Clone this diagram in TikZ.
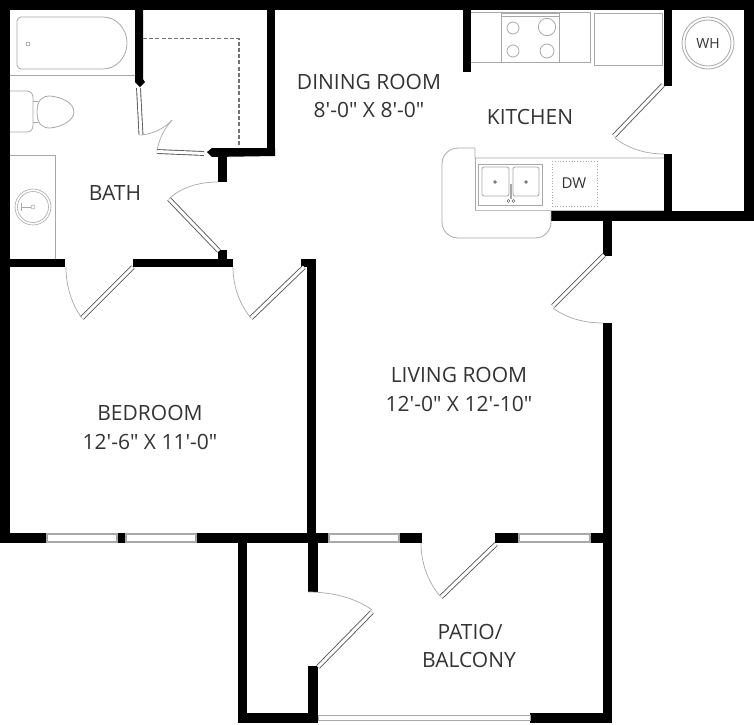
\documentclass[tikz,border=0pt]{standalone}
\usepackage{fontspec}
\setmainfont{Open Sans}
\definecolor{fixture}{gray}{0.66}
\definecolor{labelgray}{gray}{0.2}
\newcommand{\ft}{\textquotesingle}
\newcommand{\inch}{\textquotedbl}
\tikzset{
  wall/.style={fill=black,draw=none},
  fixture/.style={draw=fixture,line width=0.8pt},
  leaf/.style={draw=black!65,line width=0.9pt,double=white,double distance=3pt},
  swing/.style={draw=fixture,line width=0.7pt},
  pane/.style={draw=fixture,fill=white,line width=1.1pt},
  room/.style={text=labelgray,font=\fontsize{21}{25}\selectfont,align=center}
}
\begin{document}
\begin{tikzpicture}[x=1pt,y=-1pt]
  \useasboundingbox (0,0) rectangle (754,724);
  % Outer walls
  \fill[wall] (0,0) rectangle (754,10);
  \fill[wall] (0,0) rectangle (10,543);
  \fill[wall] (744,0) rectangle (754,221);
  \fill[wall] (551,211) rectangle (754,221);
  \fill[wall] (603,211) rectangle (612,256);
  \fill[wall] (603,323) rectangle (612,723);
  \fill[wall] (530,713) rectangle (612,723);
  \fill[wall] (238,533) rectangle (247,723);
  \fill[wall] (238,713) rectangle (318,723);
  % Walls along the bedroom and living room
  \fill[wall] (0,533) rectangle (47,543);
  \fill[wall] (117,533) rectangle (126,543);
  \fill[wall] (196,533) rectangle (329,543);
  \fill[wall] (399,533) rectangle (422,543);
  \fill[wall] (495,533) rectangle (519,543);
  \fill[wall] (590,533) rectangle (612,543);
  \fill[wall] (301,259) rectangle (316,267);
  \fill[wall] (307,259) rectangle (316,533);
  \fill[wall] (308,533) rectangle (318,592);
  \fill[wall] (308,666) rectangle (318,723);
  \fill[wall] (10,259) rectangle (65,267);
  \fill[wall] (133,259) rectangle (233,267);
  \fill[wall] (218,250) rectangle (227,259);
  % Closet
  \fill[wall] (218,152) rectangle (227,182);
  \fill[wall] (267,0) rectangle (275,156);
  \fill[wall] (275,148) -- (212,148) -- (207,152) -- (212,157) -- (275,156) -- cycle;
  \fill[wall] (135,0) -- (143,0) -- (143,79) -- (145,82) -- (140,87) -- (135,82) -- cycle;
  \draw[draw=black!55,line width=1.1pt,dash pattern=on 4pt off 2.2pt] (143,38.5) -- (239,38.5) -- (239,147);
  % Kitchen walls
  \fill[wall] (463,0) rectangle (471,72);
  \fill[wall] (664,0) rectangle (672,86);
  \fill[wall] (664,154) rectangle (672,221);
  % Windows
  \draw[pane] (47,534) rectangle (117,542);
  \draw[pane] (126,534) rectangle (196,542);
  \draw[pane] (329,534) rectangle (399,542);
  \draw[pane] (519,534) rectangle (590,542);
  \draw[pane,line width=0.9pt] (318,715) rectangle (530,720);
  % Doors
  \draw[leaf] (138.5,88) -- (141,135);
  \draw[swing] (141,135) .. controls (153,134) and (165,128) .. (172,120);
  \draw[leaf] (157,151.5) -- (204,153.5);
  \draw[swing] (157,151) .. controls (159,138) and (165,128) .. (172,120);
  \draw[leaf] (169,199) -- (219,251);
  \draw[swing] (169,199) .. controls (180,188) and (198,182) .. (218,182);
  \draw[leaf] (133,267) -- (82,318);
  \draw[swing] (66,267) .. controls (66,287) and (72,305) .. (82,318);
  \draw[leaf] (304,267) -- (251,318);
  \draw[swing] (233,267) .. controls (233,287) and (240,305) .. (251,318);
  \draw[leaf] (496,544) -- (441,597);
  \draw[swing] (421,543) .. controls (421,563) and (428,582) .. (440,596);
  \draw[leaf] (318,667) -- (372,612);
  \draw[swing] (308,592) .. controls (332,592) and (356,598) .. (372,610);
  \draw[leaf] (663,85) -- (614,136);
  \draw[swing] (615,138) .. controls (627,148) and (645,154) .. (664,154);
  \draw[leaf] (604,255) -- (553,306);
  \draw[swing] (553,308) .. controls (566,318) and (584,323) .. (603,323);
  % Tub and toilet
  \draw[fixture] (10,75) -- (135,75);
  \draw[fixture] (21,17) -- (103,17) arc[start angle=90,end angle=-90,x radius=24,y radius=-26] -- (21,69)
    .. controls (19,69) and (17,67) .. (17,65) -- (17,21) .. controls (17,19) and (19,17) .. (21,17) -- cycle;
  \draw[fixture] (28,44) circle (2);
  \draw[fixture,rounded corners=6pt] (10,91) -- (33,91) -- (33,132) -- (10,132);
  \draw[fixture] (33,101) -- (38,101) (33,122) -- (38,122);
  \draw[fixture] (37,112) .. controls (37,100) and (42,96) .. (50,96) .. controls (62,97) and (74,103) .. (74,112)
    .. controls (74,120) and (62,127) .. (50,128) .. controls (42,128) and (37,124) .. (37,112) -- cycle;
  % Vanity
  \draw[fixture] (10,155) -- (55,155) -- (55,259);
  \draw[fixture,line width=0.6pt] (33,207) circle (18);
  \draw[fixture,line width=0.6pt] (33,207) circle (15.5);
  \draw[fixture,line width=0.6pt] (33,207) circle (2);
  \draw[fixture,line width=0.6pt] (21,207) -- (31,207) (21,203) -- (21,211);
  % Range and counter
  \draw[fixture] (471,12) -- (590,12) -- (590,62) -- (471,62);
  \draw[fixture] (501,13) rectangle (559,62);
  \draw[fixture] (501,16) -- (559,16);
  \draw[fixture] (513,28) circle (6);
  \draw[fixture] (547,27) circle (8.7);
  \draw[fixture] (513,51) circle (6);
  \draw[fixture] (547,51) circle (7);
  \draw[fixture] (594,13) rectangle (662,65);
  % Peninsula and sink
  \draw[fixture] (664,158) -- (475,158) -- (475,148) -- (458,148)
    .. controls (449,148) and (442,155) .. (442,164) -- (442,222)
    .. controls (442,231) and (449,238) .. (458,238) -- (535,238)
    .. controls (544,238) and (551,231) .. (551,222) -- (551,211);
  \draw[fixture] (475,158) -- (475,211);
  \draw[fixture,line width=1.6pt,draw=black!25] (475,210.5) -- (664,210.5);
  \draw[fixture] (478,164) rectangle (542.5,205);
  \draw[fixture,rounded corners=2pt] (482,167) rectangle (509,196);
  \draw[fixture,rounded corners=2pt] (513,167) rectangle (539,196);
  \fill[fixture] (495,182) circle (1.5);
  \fill[fixture] (526,182) circle (1.5);
  \draw[fixture,line width=2.4pt] (511,184) -- (511,199);
  \draw[fixture,line width=0.5pt,draw=black!60] (508.5,201) circle (1.6) (513.5,201) circle (1.6);
  \draw[fixture,dotted] (552,161) rectangle (597,206);
  % Water heater
  \draw[fixture] (708,43) circle (26);
  \draw[fixture] (708,43) circle (23);
  % Labels
  \node[room] (diningname) at (369,82) {DINING ROOM};
  \node[room] (diningsize) at (369,110) {8\ft-0\inch{} X 8\ft-0\inch};
  \node[room] (kitchenname) at (530,117) {KITCHEN};
  \node[room] (bathname) at (115,193) {BATH};
  \node[room] (livingname) at (459,375) {LIVING ROOM};
  \node[room] (livingsize) at (459,404) {12\ft-0\inch{} X 12\ft-10\inch};
  \node[room] (bedname) at (150,413) {BEDROOM};
  \node[room] (bedsize) at (150,442) {12\ft-6\inch{} X 11\ft-0\inch};
  \node[room] (pationame) at (470,632) {PATIO/};
  \node[room] (balconyname) at (469,660) {BALCONY};
  \node[text=labelgray,font=\fontsize{14}{16}\selectfont] (wh) at (708,43) {WH};
  \node[text=labelgray,font=\fontsize{15}{17}\selectfont] (dw) at (574,183) {DW};
\end{tikzpicture}
\end{document}
